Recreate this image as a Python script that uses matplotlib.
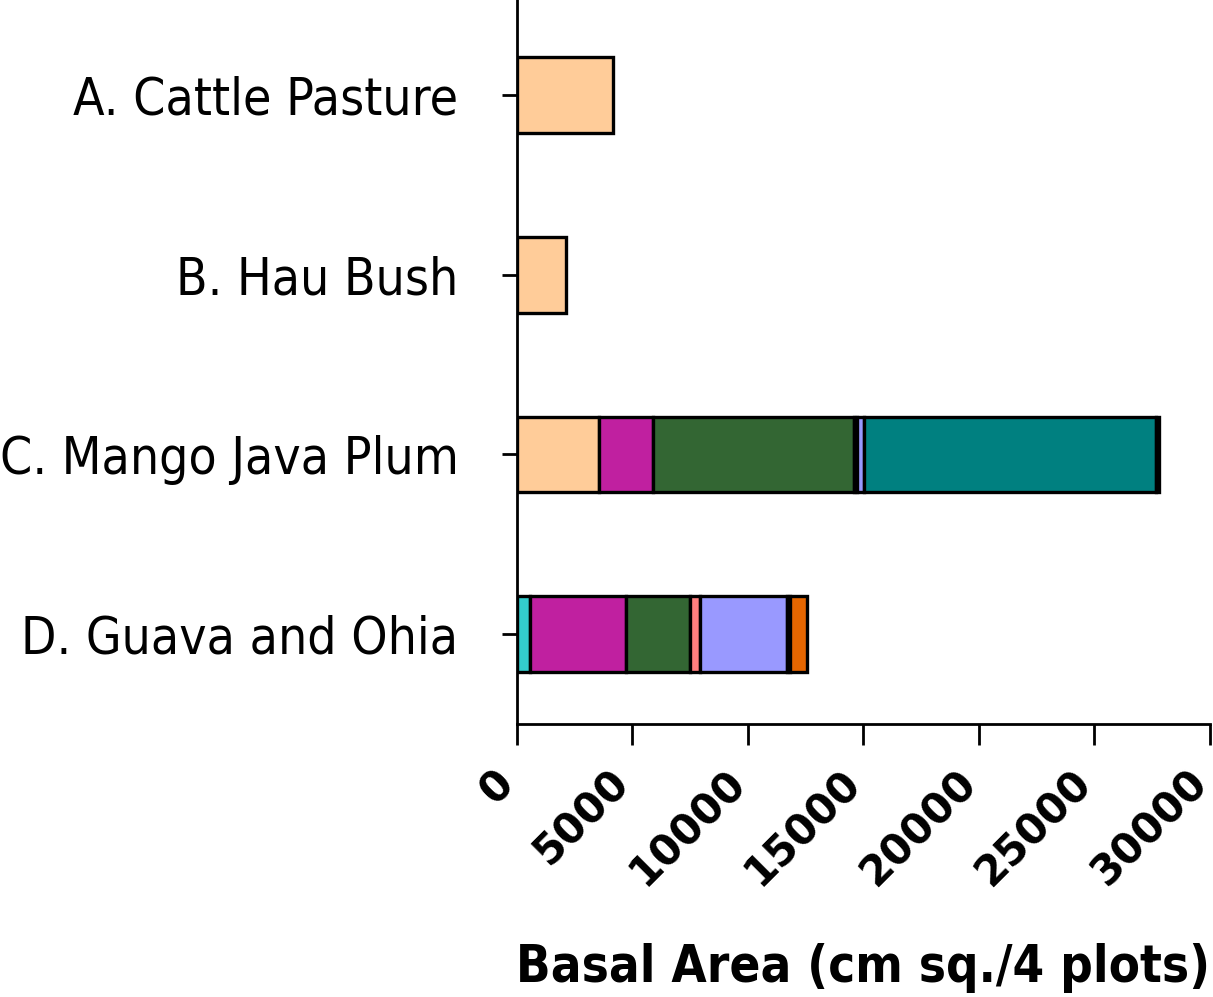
import matplotlib.pyplot as plt
from matplotlib import font_manager as fm
from matplotlib.transforms import ScaledTranslation
import numpy as np

sites = ['D. Guava and Ohia', 'C. Mango Java Plum', 'B. Hau Bush', 'A. Cattle Pasture']

# basal area per species, one value per site (same order as sites)
species = ['peach', 'cyan', 'magenta', 'green', 'navy', 'salmon', 'lavender',
           'dark', 'teal', 'orange', 'lime']
basal = {
    'peach':    [0, 3570, 2150, 4160],
    'cyan':     [560, 0, 0, 0],
    'magenta':  [4190, 2340, 0, 0],
    'green':    [2740, 8665, 0, 0],
    'navy':     [0, 150, 0, 0],
    'salmon':   [430, 0, 0, 0],
    'lavender': [3760, 290, 0, 0],
    'dark':     [140, 0, 0, 0],
    'teal':     [0, 12670, 0, 0],
    'orange':   [720, 0, 0, 0],
    'lime':     [0, 130, 0, 0],
}
colors = {
    'peach': '#FFCC99', 'cyan': '#33CCCC', 'magenta': '#C020A0',
    'green': '#336633', 'navy': '#000080', 'salmon': '#FF8080',
    'lavender': '#9999FF', 'dark': '#333333', 'teal': '#008080',
    'orange': '#E66600', 'lime': '#00CC00',
}
xticks = [0, 5000, 10000, 15000, 20000, 25000, 30000]


def narrow_font(bold):
    # look for a narrow / condensed sans face, fall back to DejaVu Sans
    best = None
    for f in fm.fontManager.ttflist:
        st = str(f.stretch).lower()
        narrow = ('narrow' in f.name.lower() or 'condensed' in f.name.lower()
                  or 'condensed' in st or 'narrow' in st)
        if not narrow or f.style != 'normal':
            continue
        w = f.weight if isinstance(f.weight, int) else (700 if 'bold' in str(f.weight) else 400)
        if (w >= 600) != bold:
            continue
        rank = 0 if 'Liberation' in f.name else (1 if 'DejaVu' in f.name else 2)
        if best is None or rank < best[0]:
            best = (rank, f.fname)
    if best:
        return fm.FontProperties(fname=best[1])
    return None


fp_reg = narrow_font(False)
fp_bold = narrow_font(True)

fig = plt.figure(figsize=(12.13, 9.97), dpi=100)
ax = fig.add_axes([0.426, 0.274, 0.5715, 0.726])

y = np.arange(len(sites))
left = np.zeros(len(sites))
for sp in species:
    vals = np.array(basal[sp], dtype=float)
    mask = vals > 0
    ax.barh(y[mask], vals[mask], left=left[mask], height=0.42,
            color=colors[sp], edgecolor='black', linewidth=2.4)
    left += vals

ax.set_xlim(0, 30000)
ax.set_ylim(-0.5, 3.53)
ax.set_xticks(xticks)
ax.set_yticks(y)

ax.tick_params(axis='y', length=11, width=2, pad=31)
ax.tick_params(axis='x', length=15, width=2, pad=23)
ax.spines['top'].set_visible(False)
ax.spines['right'].set_visible(False)
ax.spines['left'].set_linewidth(2)
ax.spines['bottom'].set_linewidth(2)

if fp_reg is not None:
    fp_reg.set_size(37)
    ax.set_yticklabels(sites, fontproperties=fp_reg)
else:
    ax.set_yticklabels(sites, fontsize=30)

ax.set_xticklabels([str(v) for v in xticks],
                   rotation=45, ha='right', va='center', rotation_mode='anchor',
                   fontsize=30, fontweight='bold', family='DejaVu Sans')
# nudge the slanted labels a little to the left
shift = ScaledTranslation(-9 / 100, 0, fig.dpi_scale_trans)
for tick in ax.xaxis.get_major_ticks():
    tick.label1.set_transform(tick.label1.get_transform() + shift)

if fp_bold is not None:
    fp_bold.set_size(36.5)
    ax.set_xlabel('Basal Area (cm sq./4 plots)', fontproperties=fp_bold, labelpad=35)
else:
    ax.set_xlabel('Basal Area (cm sq./4 plots)', fontsize=30, fontweight='bold',
                  labelpad=35)

fig.savefig('out.png', dpi=100)
